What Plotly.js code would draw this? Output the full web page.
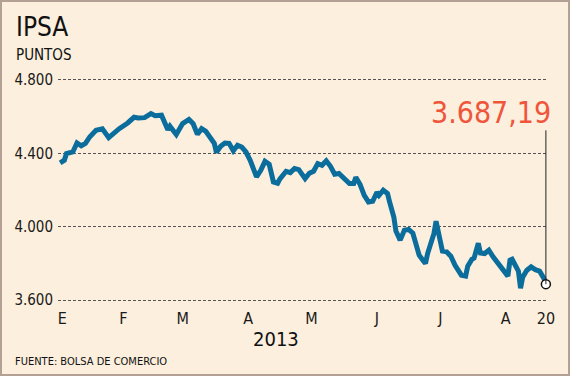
<!DOCTYPE html>
<html>
<head>
<meta charset="utf-8">
<script src="https://cdn.plot.ly/plotly-3.0.1.min.js"></script>
<style>
  html, body { margin: 0; padding: 0; }
  body { width: 570px; height: 376px; background: #b3a196; position: relative; overflow: hidden; }
  #chart { position: absolute; left: 2px; top: 2px; width: 566px; height: 372px; background: #fcefdd; }
</style>
</head>
<body>
<div id="chart"></div>
<script>
// ---- data ----
const dates = [
  "2013-01-02","2013-01-04","2013-01-05","2013-01-08","2013-01-10","2013-01-12","2013-01-14","2013-01-16",
  "2013-01-19","2013-01-22","2013-01-25","2013-01-28","2013-01-30","2013-02-03","2013-02-06","2013-02-08",
  "2013-02-11","2013-02-14","2013-02-16","2013-02-19","2013-02-21","2013-02-22","2013-02-23","2013-02-26",
  "2013-03-01","2013-03-04","2013-03-06","2013-03-07","2013-03-08","2013-03-10","2013-03-12","2013-03-13",
  "2013-03-16","2013-03-17","2013-03-19","2013-03-21","2013-03-23","2013-03-25","2013-03-27","2013-03-29",
  "2013-03-31","2013-04-02","2013-04-03","2013-04-05","2013-04-07","2013-04-09","2013-04-11","2013-04-13",
  "2013-04-15","2013-04-16","2013-04-19","2013-04-21","2013-04-23","2013-04-25","2013-04-28","2013-04-30",
  "2013-05-02","2013-05-04","2013-05-06","2013-05-08","2013-05-10","2013-05-12","2013-05-14","2013-05-16",
  "2013-05-18","2013-05-19","2013-05-21","2013-05-22","2013-05-24","2013-05-26","2013-05-28","2013-05-30",
  "2013-06-01","2013-06-02","2013-06-04","2013-06-06","2013-06-07","2013-06-09","2013-06-10","2013-06-12",
  "2013-06-14","2013-06-16","2013-06-18","2013-06-19","2013-06-21","2013-06-23","2013-06-24","2013-06-25",
  "2013-06-28","2013-06-29","2013-07-01","2013-07-02","2013-07-04","2013-07-06","2013-07-08","2013-07-11",
  "2013-07-13","2013-07-14","2013-07-16","2013-07-17","2013-07-19","2013-07-20","2013-07-22","2013-07-24",
  "2013-07-26","2013-07-28","2013-07-30","2013-08-01","2013-08-02","2013-08-03","2013-08-04","2013-08-05",
  "2013-08-07","2013-08-08","2013-08-09","2013-08-11","2013-08-13","2013-08-15","2013-08-17","2013-08-19",
  "2013-08-20"
];
const ipsa = [
  4348,4362,4398,4407,4456,4441,4454,4489,
  4525,4533,4485,4517,4534,4565,4596,4592,
  4594,4616,4604,4607,4552,4528,4547,4502,
  4562,4584,4561,4531,4503,4534,4520,4503,
  4454,4405,4438,4456,4454,4414,4444,4434,
  4407,4362,4335,4272,4307,4356,4340,4244,
  4237,4259,4302,4295,4317,4311,4262,4291,
  4302,4344,4335,4359,4329,4286,4290,4269,
  4253,4235,4235,4269,4231,4171,4135,4139,
  4188,4171,4199,4181,4135,4053,3976,3927,
  3981,3985,3965,3927,3845,3814,3800,3854,
  3963,4030,3937,3867,3863,3839,3790,3736,
  3731,3785,3823,3829,3910,3857,3854,3872,
  3836,3804,3774,3736,3731,3818,3823,3801,
  3758,3665,3725,3763,3781,3766,3758,3720,
  3687.19
];
const monthTickDates = ["2013-01-03","2013-02-01","2013-03-01","2013-04-01","2013-05-01","2013-06-01","2013-07-01","2013-08-01","2013-08-20"];
const monthTickLabels = ["E","F","M","A","M","J","J","A","20"];
const yTickVals = [3600, 4000, 4400, 4800];
const yTickLabels = ["3.600", "4.000", "4.400", "4.800"];
const lastLabel = "3.687,19";
const yearLabel = "2013";
const titleText = "IPSA";
const unitText = "PUNTOS";
const sourceText = "FUENTE: BOLSA DE COMERCIO";

const FONT = "'DejaVu Sans Condensed', 'DejaVu Sans', sans-serif";
const lastDate = dates[dates.length - 1];
const lastVal = ipsa[ipsa.length - 1];

const traces = [
  {
    x: dates, y: ipsa, type: "scatter", mode: "lines",
    line: { color: "#0b6d9c", width: 5, shape: "linear" },
    hoverinfo: "skip"
  },
  {
    x: [lastDate], y: [lastVal], type: "scatter", mode: "markers",
    cliponaxis: false,
    marker: { size: 9, color: "#ffffff", line: { color: "#111111", width: 1.5 } },
    hoverinfo: "skip"
  }
];

const layout = {
  width: 566, height: 372,
  margin: { l: 56, r: 20, t: 76.2, b: 72.2 },
  paper_bgcolor: "#fcefdd",
  plot_bgcolor: "#fcefdd",
  showlegend: false,
  font: { family: FONT, color: "#1a1a1a" },
  xaxis: {
    type: "date",
    range: ["2013-01-01", "2013-08-21"],
    tickvals: monthTickDates,
    ticktext: monthTickLabels,
    showgrid: false, zeroline: false, showline: false,
    ticks: "", ticklabelstandoff: 5,
    tickfont: { family: FONT, size: 16, color: "#1a1a1a" }
  },
  yaxis: {
    range: [3590, 4810],
    tickvals: yTickVals,
    ticktext: yTickLabels,
    showgrid: true, gridcolor: "#555555", griddash: "3px,2px", gridwidth: 1,
    zeroline: false, showline: false,
    ticks: "", ticklabelstandoff: 4,
    tickfont: { family: FONT, size: 15, color: "#1a1a1a" }
  },
  shapes: [
    {
      type: "line", xref: "x", yref: "y",
      x0: lastDate, x1: lastDate, y0: lastVal, y1: 4525,
      line: { color: "#222222", width: 1 }
    }
  ],
  annotations: [
    {
      text: titleText, xref: "paper", yref: "paper",
      x: -0.09, y: 1.229, xanchor: "left", yanchor: "middle",
      showarrow: false, font: { family: FONT, size: 26, color: "#111111" }
    },
    {
      text: unitText, xref: "paper", yref: "paper",
      x: -0.09, y: 1.104, xanchor: "left", yanchor: "middle",
      showarrow: false, font: { family: FONT, size: 15, color: "#111111" }
    },
    {
      text: lastLabel, xref: "paper", yref: "paper",
      x: 1.01, y: 0.761, xanchor: "right", yanchor: "bottom",
      showarrow: false, font: { family: FONT, size: 30, color: "#ef553b" }
    },
    {
      text: yearLabel, xref: "paper", yref: "paper",
      x: 0.444, y: -0.166, xanchor: "center", yanchor: "middle",
      showarrow: false, font: { family: FONT, size: 20, color: "#111111" }
    },
    {
      text: sourceText, xref: "paper", yref: "paper",
      x: -0.092, y: -0.267, xanchor: "left", yanchor: "middle",
      showarrow: false, font: { family: FONT, size: 11, color: "#111111" }
    }
  ]
};

Plotly.newPlot("chart", traces, layout, { staticPlot: true, displayModeBar: false });
</script>
</body>
</html>
